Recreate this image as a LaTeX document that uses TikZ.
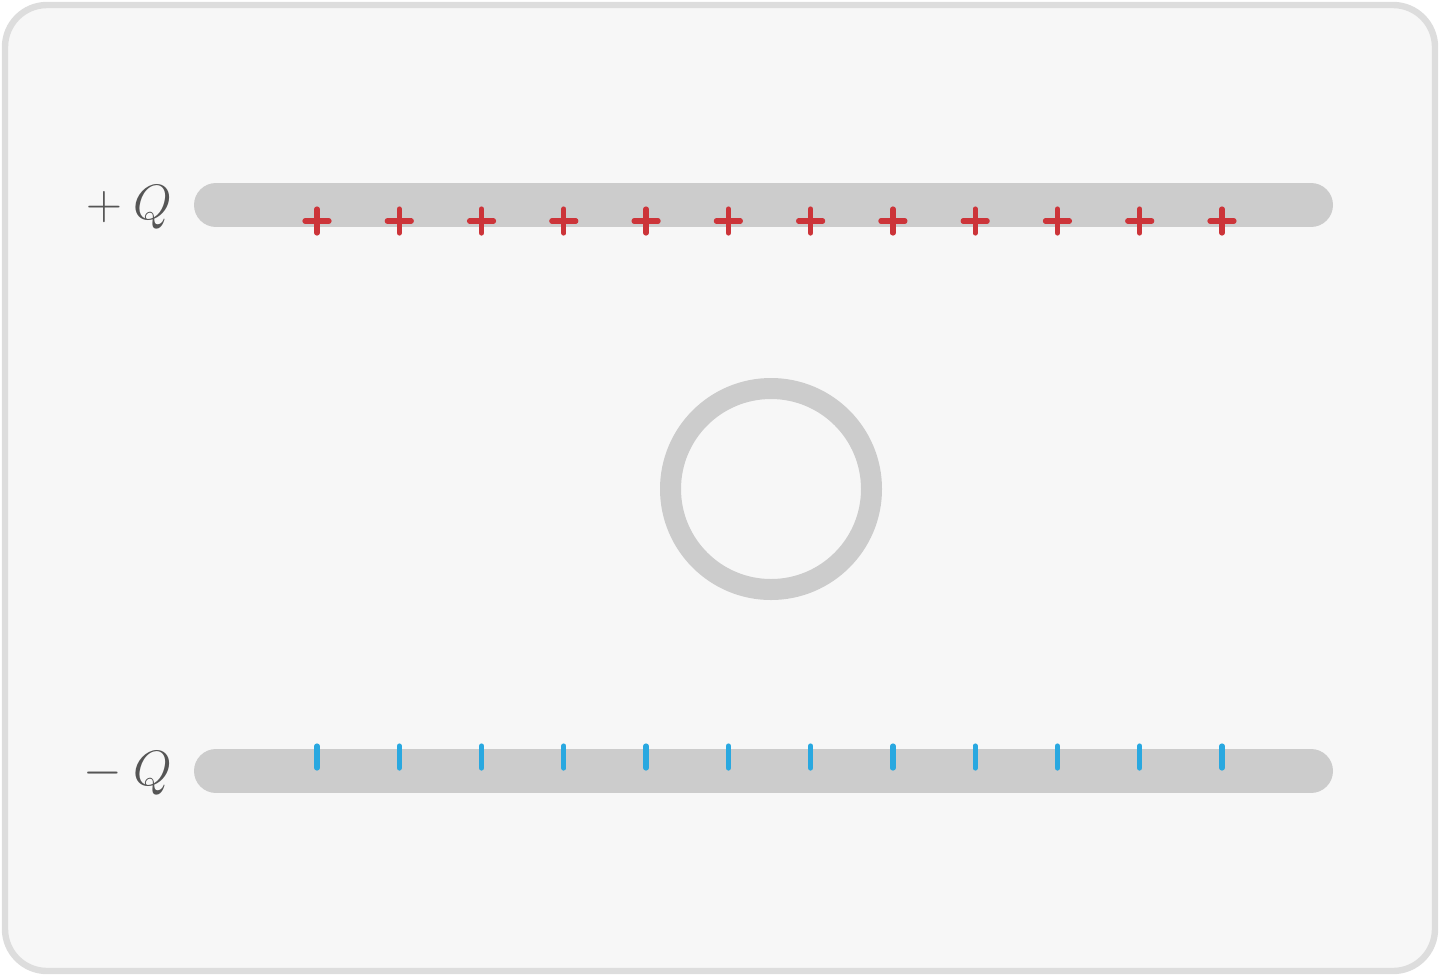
\documentclass[tikz,border=0pt]{standalone}
\usepackage{tikz}
\definecolor{framefill}{HTML}{F7F7F7}
\definecolor{framedraw}{HTML}{DDDDDD}
\definecolor{plategray}{HTML}{CCCCCC}
\definecolor{plusred}{HTML}{CC3439}
\definecolor{minusblue}{HTML}{29A8E0}
\definecolor{labelgray}{HTML}{555555}
\begin{document}
\begin{tikzpicture}[x=0.5pt,y=-0.5pt,
  plate/.style={line width=22pt, line cap=round, draw=plategray},
  pluscharge/.style={line width=2.6pt, draw=plusred, line cap=round},
  minuscharge/.style={line width=2.6pt, draw=minusblue, line cap=round},
  platelabel/.style={text=labelgray, anchor=base east, inner sep=0pt, font=\fontsize{27}{32}\selectfont}]
\useasboundingbox (0,0) rectangle (1440,976);
\draw[line width=3.2pt, draw=framedraw, fill=framefill, rounded corners=21pt] (5,5) rectangle (1435,971);
% plates
\coordinate (t1) at (216,205); \coordinate (t2) at (1311,205);
\coordinate (b1) at (216,771); \coordinate (b2) at (1311,771);
\draw[plate] (t1) -- (t2);
\draw[plate] (b1) -- (b2);
% charges
\foreach \i in {0,...,11}{
  \pgfmathsetmacro{\xx}{317+82.27*\i}
  \draw[pluscharge] (\xx-12,221) -- (\xx+12,221);
  \draw[pluscharge] (\xx,209) -- (\xx,233);
  \draw[minuscharge] (\xx,746) -- (\xx,768);
}
% ring
\node[circle, draw=plategray, line width=10.5pt, minimum size=100.5pt, inner sep=0pt] (ring) at (771,489) {};
% labels
\node[platelabel] (lp) at (172,219) {$+\mskip\medmuskip Q$};
\node[platelabel] (lm) at (172,785) {$-\mskip\medmuskip Q$};
\end{tikzpicture}
\end{document}
